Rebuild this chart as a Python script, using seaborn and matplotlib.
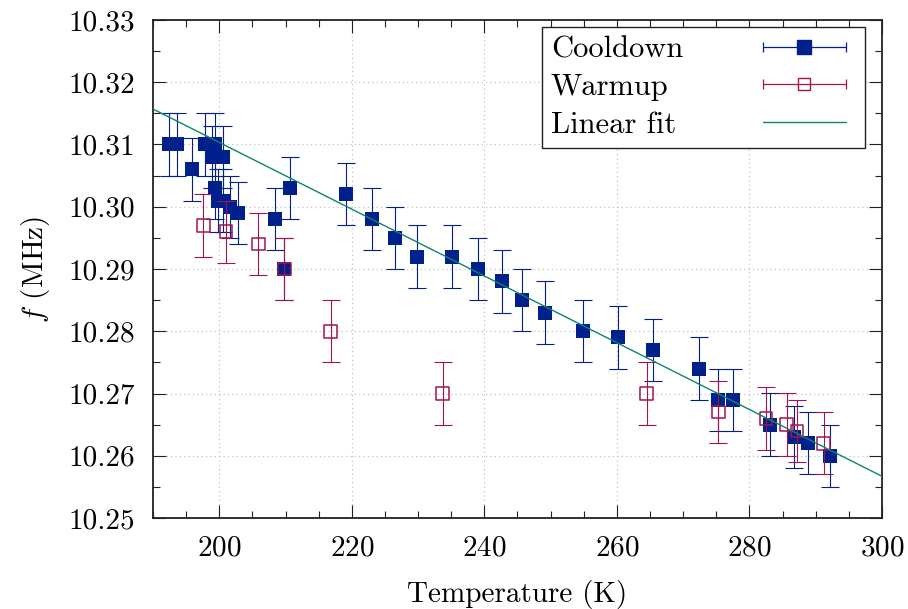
import numpy as np
import pandas as pd
import matplotlib
matplotlib.use("Agg")
import matplotlib.pyplot as plt
import seaborn as sns
from matplotlib.lines import Line2D
from matplotlib.legend_handler import HandlerBase
from matplotlib.ticker import MultipleLocator, FormatStrFormatter

# ---------------- data ----------------
cool_T = [192.4, 193.6, 195.9, 197.8, 199.4, 198.9, 200.6, 199.4, 199.8, 200.6,
          201.6, 202.9, 208.4, 209.8, 210.7, 219.1, 223.0, 226.5, 229.8, 235.1,
          239.0, 242.7, 245.7, 249.2, 254.9, 260.2, 265.4, 272.4, 275.3, 277.5,
          283.1, 286.7, 288.8, 292.2]
cool_f = [10.310, 10.310, 10.306, 10.310, 10.310, 10.308, 10.308, 10.303, 10.301, 10.301,
          10.300, 10.299, 10.298, 10.290, 10.303, 10.302, 10.298, 10.295, 10.292, 10.292,
          10.290, 10.288, 10.285, 10.283, 10.280, 10.279, 10.277, 10.274, 10.269, 10.269,
          10.265, 10.263, 10.262, 10.260]
warm_T = [197.6, 201.0, 205.9, 209.8, 216.8, 233.7, 264.5, 275.3, 282.5, 285.6, 287.2, 291.2]
warm_f = [10.297, 10.296, 10.294, 10.290, 10.280, 10.270, 10.270, 10.267, 10.266, 10.265,
          10.264, 10.262]
f_err = 0.005
fit_T = [190.0, 300.0]
fit_f = [10.3157, 10.2567]

x_ticks = [200, 220, 240, 260, 280, 300]
y_ticks = [10.25, 10.26, 10.27, 10.28, 10.29, 10.30, 10.31, 10.32, 10.33]

labels = ["Cooldown", "Warmup", "Linear fit"]

C_COOL = "#00208c"
C_WARM = "#a3144f"
C_FIT = "#0b8570"

cool = pd.DataFrame({"T": cool_T, "f": cool_f})
warm = pd.DataFrame({"T": warm_T, "f": warm_f})
fit = pd.DataFrame({"T": fit_T, "f": fit_f})

# ---------------- style ----------------
sns.set_theme(style="ticks")
plt.rcParams["font.family"] = ["cmr10", "DejaVu Serif"]
plt.rcParams["mathtext.fontset"] = "cm"
plt.rcParams["axes.formatter.use_mathtext"] = True
plt.rcParams["text.color"] = "black"
plt.rcParams["axes.labelcolor"] = "black"
plt.rcParams["xtick.labelcolor"] = "black"
plt.rcParams["ytick.labelcolor"] = "black"
FS = 21
LFS = 22

fig = plt.figure(figsize=(9.08, 6.09), dpi=100)
ax = fig.add_axes([153 / 908, 91 / 609, 729 / 908, 498 / 609])

# cooldown
ax.errorbar(cool["T"], cool["f"], yerr=f_err, fmt="none", ecolor=C_COOL,
            elinewidth=0.8, capsize=6.5, capthick=0.8, zorder=2)
sns.scatterplot(data=cool, x="T", y="f", ax=ax, marker="s", s=95, color=C_COOL,
                linewidth=0, zorder=3, legend=False)
# warmup
ax.errorbar(warm["T"], warm["f"], yerr=f_err, fmt="none", ecolor=C_WARM,
            elinewidth=0.8, capsize=6.5, capthick=0.8, zorder=4)
sns.scatterplot(data=warm, x="T", y="f", ax=ax, marker="s", s=82, facecolor="none",
                edgecolor=C_WARM, linewidth=1.1, zorder=5, legend=False)
# fit
sns.lineplot(data=fit, x="T", y="f", ax=ax, color=C_FIT, linewidth=1.0, zorder=6)

ax.set_xlim(190, 300)
ax.set_ylim(10.25, 10.33)
ax.set_xticks(x_ticks)
ax.set_yticks(y_ticks)
ax.xaxis.set_minor_locator(MultipleLocator(5))
ax.yaxis.set_minor_locator(MultipleLocator(0.005))
ax.yaxis.set_major_formatter(FormatStrFormatter("%.2f"))
ax.tick_params(which="both", direction="in", top=True, right=True, width=0.8,
               color="#222222", labelsize=FS, labelcolor="black")
ax.tick_params(which="major", length=9.5)
ax.tick_params(which="minor", length=5)
ax.tick_params(axis="y", which="major", pad=13)
ax.tick_params(axis="x", which="major", pad=12)
for sp in ax.spines.values():
    sp.set_linewidth(1.3)
    sp.set_color("#222222")
ax.grid(True, which="major", color="#c4c4c4", linestyle=(0, (1, 2.5)), linewidth=0.9)
ax.set_axisbelow(True)

ax.set_xlabel("Temperature (K)", fontsize=FS, labelpad=14, color="black")
ax.set_ylabel("$f$ (MHz)", fontsize=FS, labelpad=12, color="black")

HL_DRAW = 2.72   # visible handle length (font units)
HL_BOX = 3.05    # reserved handle box length (font units)


class HErr(HandlerBase):
    def __init__(self, color, face, ms):
        super().__init__()
        self.color = color
        self.face = face
        self.ms = ms

    def create_artists(self, legend, orig_handle, xdescent, ydescent, width,
                       height, fontsize, trans):
        y = height / 2 - ydescent
        x0 = -xdescent
        x1 = x0 + width * HL_DRAW / HL_BOX
        line = Line2D([x0, x1], [y, y], color=self.color, lw=0.9)
        caps = Line2D([x0, x1], [y, y], color=self.color, marker="|", ms=6.5,
                      mew=0.9, ls="none")
        mk = Line2D([(x0 + x1) / 2], [y], marker="s", ms=self.ms, mfc=self.face,
                    mec=self.color, mew=1.0, ls="none")
        for a in (line, caps, mk):
            a.set_transform(trans)
        return [line, caps, mk]


class HLine(HandlerBase):
    def __init__(self, color):
        super().__init__()
        self.color = color

    def create_artists(self, legend, orig_handle, xdescent, ydescent, width,
                       height, fontsize, trans):
        y = height / 2 - ydescent
        x0 = -xdescent
        x1 = x0 + width * HL_DRAW / HL_BOX
        line = Line2D([x0, x1], [y, y], color=self.color, lw=1.0)
        line.set_transform(trans)
        return [line]


h1 = Line2D([], [], color=C_COOL)
h2 = Line2D([], [], color=C_WARM)
h3 = Line2D([], [], color=C_FIT, lw=1.0)
HTP = 2.6
leg = ax.legend([h1, h2, h3], labels,
                handler_map={h1: HErr(C_COOL, C_COOL, 9.7),
                             h2: HErr(C_WARM, "none", 9.2),
                             h3: HLine(C_FIT)},
                loc="upper right", bbox_to_anchor=(865 / 908, 1 - 27 / 609),
                bbox_transform=fig.transFigure, markerfirst=False, fontsize=LFS,
                handlelength=HL_BOX, handletextpad=HTP, labelspacing=0.33,
                borderpad=0.3, fancybox=False, framealpha=1, edgecolor="#222222",
                borderaxespad=0)
leg.get_frame().set_linewidth(1.0)

# left-align the legend labels while keeping handles in one column
fig.canvas.draw()
renderer = fig.canvas.get_renderer()
col = leg._legend_handle_box.get_children()[0]
col.align = "left"
widths = [t.get_window_extent(renderer).width * 72 / fig.dpi for t in leg.get_texts()]
wmax = max(widths)
for row, w in zip(col.get_children(), widths):
    row.sep = HTP * LFS + (wmax - w)

fig.savefig("out.png", dpi=100)
